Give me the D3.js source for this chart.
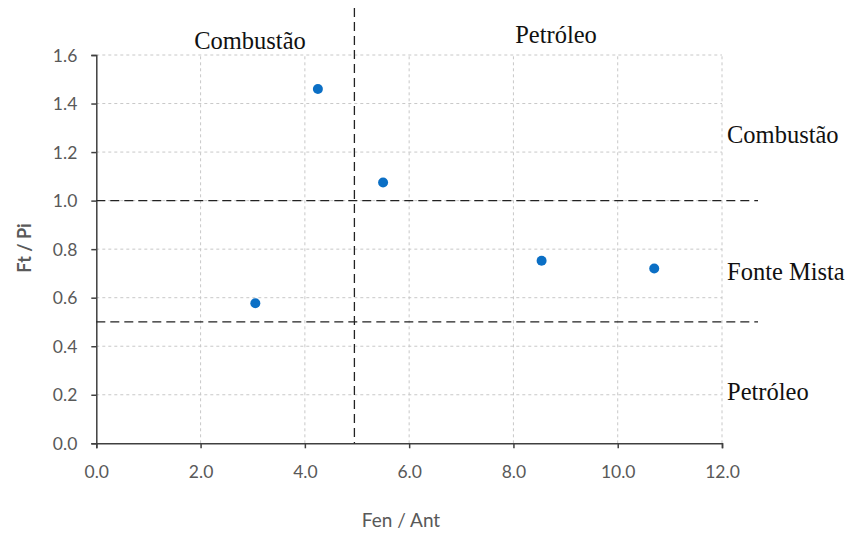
<!DOCTYPE html>
<html>
<head>
<meta charset="utf-8">
<script src="https://cdn.jsdelivr.net/npm/d3@7"></script>
<style>
  html, body { margin: 0; padding: 0; background: #fff; }
  svg { display: block; }
</style>
</head>
<body>
<svg id="chart" width="852" height="536"></svg>
<script>
// Diagnostic ratios: Fen/Ant (x) versus Ft/Pi (y)
const fenAnt = [4.25, 5.50, 3.05, 8.54, 10.70];
const ftPi   = [1.46, 1.075, 0.577, 0.752, 0.72];

const xTicks = [0, 2, 4, 6, 8, 10, 12];
const yTicks = [0, 0.2, 0.4, 0.6, 0.8, 1.0, 1.2, 1.4, 1.6];

// Threshold lines separating source regions
const xThreshold = 4.95;
const yThresholds = [1.0, 0.5];

const topLabels = ["Combustão", "Petróleo"];
const sideLabels = ["Combustão", "Fonte Mista", "Petróleo"];

const svg = d3.select("#chart");

const x = d3.scaleLinear().domain([0, 12]).range([96.3, 722]);
const y = d3.scaleLinear().domain([0, 1.6]).range([443.3, 55]);

const tickColor = "#595959";
const tickFont = "Lato, 'Open Sans', sans-serif";

// Grid
const grid = svg.append("g").attr("stroke", "#c8c8c8").attr("stroke-width", 1)
  .attr("stroke-dasharray", "3,3");
xTicks.slice(1).forEach(t => {
  grid.append("line").attr("x1", x(t)).attr("x2", x(t))
    .attr("y1", y(0)).attr("y2", y(1.6));
});
yTicks.slice(1).forEach(t => {
  grid.append("line").attr("x1", x(0)).attr("x2", x(12))
    .attr("y1", y(t)).attr("y2", y(t));
});

// Axes
const xAxis = svg.append("g")
  .attr("transform", `translate(0,${y(0)})`)
  .call(d3.axisBottom(x).tickValues(xTicks).tickFormat(d3.format(".1f"))
    .tickSize(5).tickPadding(17));
const yAxis = svg.append("g")
  .attr("transform", `translate(${x(0)},0)`)
  .call(d3.axisLeft(y).tickValues(yTicks).tickFormat(d3.format(".1f"))
    .tickSize(5).tickPadding(14));

[xAxis, yAxis].forEach(a => {
  a.select(".domain").attr("stroke", "#404040").attr("stroke-width", 1.5);
  a.selectAll(".tick line").attr("stroke", "#404040").attr("stroke-width", 1.5);
  a.selectAll(".tick text").attr("fill", tickColor)
    .style("font-family", tickFont).style("font-size", "17.5px");
});
yAxis.selectAll(".tick text").attr("dy", "0.35em");

// Threshold dashed lines
const thr = svg.append("g").attr("stroke", "#222").attr("stroke-width", 1.3)
  .attr("stroke-dasharray", "9,5").attr("fill", "none");
thr.append("line").attr("x1", x(xThreshold)).attr("x2", x(xThreshold))
  .attr("y1", 8).attr("y2", y(0));
yThresholds.forEach(v => {
  thr.append("line").attr("x1", x(0)).attr("x2", 758)
    .attr("y1", y(v)).attr("y2", y(v));
});

// Points
svg.append("g").selectAll("circle")
  .data(fenAnt.map((d, i) => [d, ftPi[i]]))
  .join("circle")
  .attr("cx", d => x(d[0]))
  .attr("cy", d => y(d[1]))
  .attr("r", 5)
  .attr("fill", "#0B6FC5");

// Region labels
const serif = "'Liberation Serif', 'Times New Roman', serif";
svg.append("text").attr("x", 250).attr("y", 49).attr("text-anchor", "middle")
  .style("font-family", serif).style("font-size", "24.5px").attr("fill", "#111")
  .text(topLabels[0]);
svg.append("text").attr("x", 556).attr("y", 43).attr("text-anchor", "middle")
  .style("font-family", serif).style("font-size", "24.5px").attr("fill", "#111")
  .text(topLabels[1]);
const sideY = [143, 280, 400];
sideLabels.forEach((t, i) => {
  svg.append("text").attr("x", 727).attr("y", sideY[i])
    .style("font-family", serif).style("font-size", "24.5px").attr("fill", "#111")
    .text(t);
});

// Axis titles
svg.append("text").attr("x", 401).attr("y", 527).attr("text-anchor", "middle")
  .style("font-family", tickFont).style("font-size", "19px").attr("fill", tickColor)
  .text("Fen / Ant");
svg.append("text")
  .attr("transform", "translate(31,248) rotate(-90)")
  .attr("text-anchor", "middle")
  .style("font-family", tickFont).style("font-size", "18px").style("font-weight", "bold")
  .attr("fill", tickColor)
  .text("Ft / Pi");
</script>
</body>
</html>
